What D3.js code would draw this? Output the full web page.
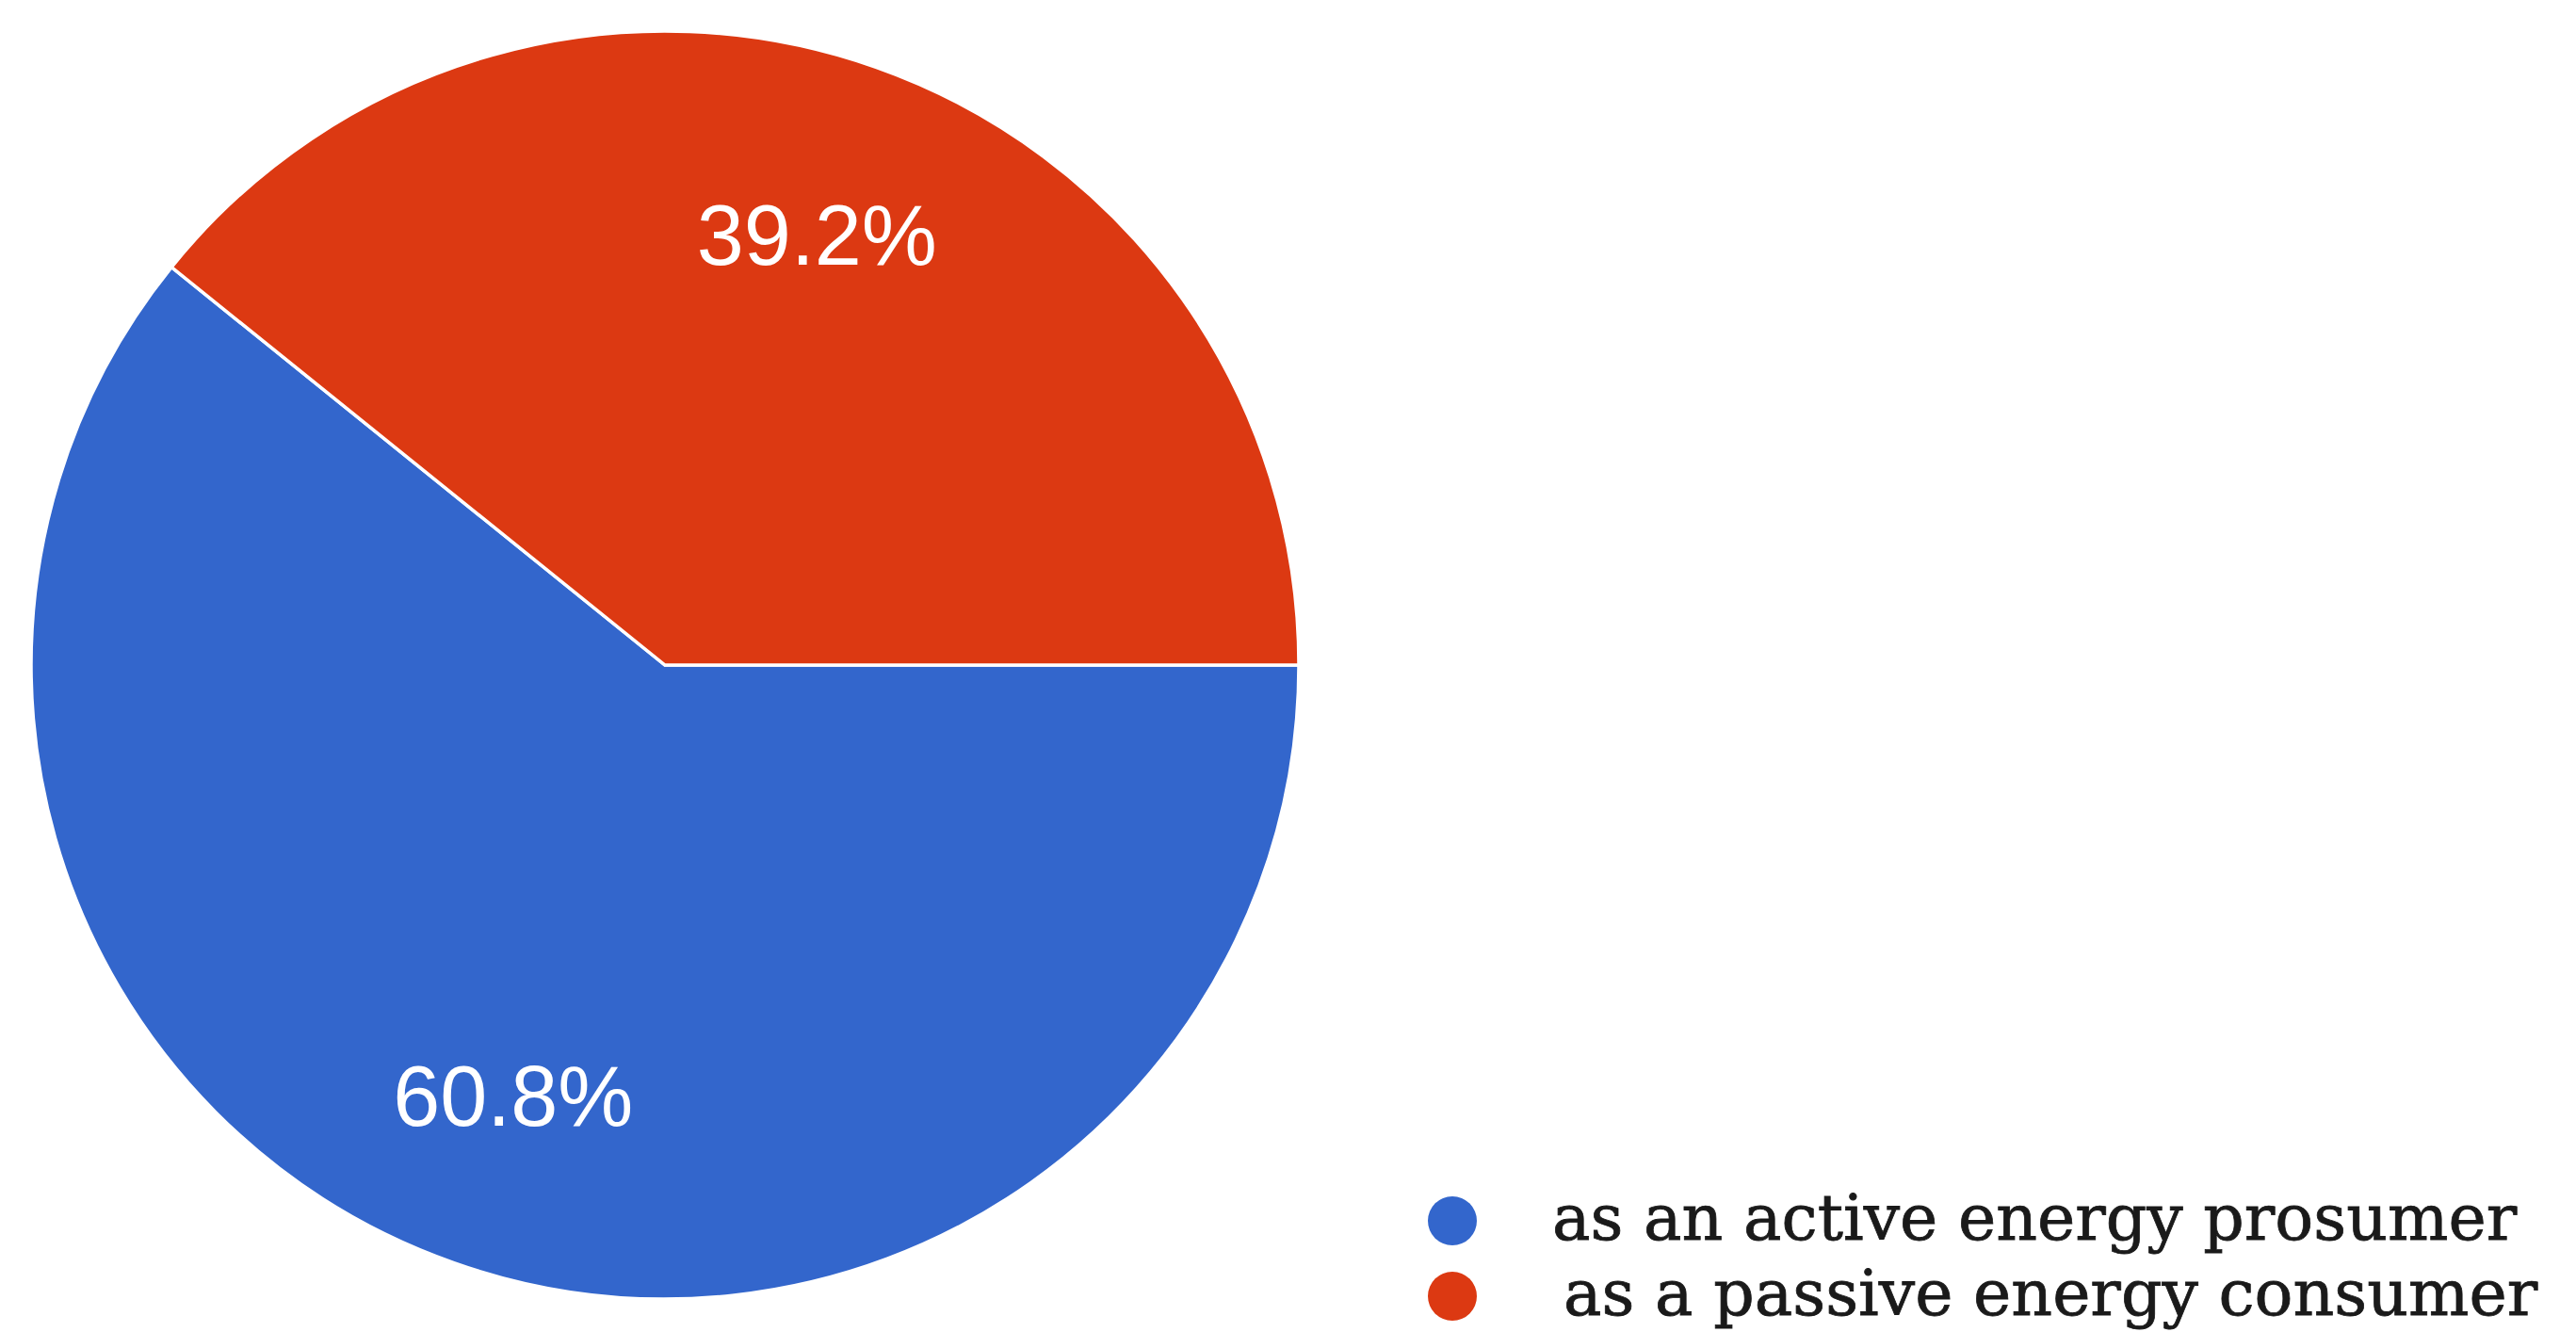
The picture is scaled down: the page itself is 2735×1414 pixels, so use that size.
<!DOCTYPE html>
<html>
<head>
<meta charset="utf-8">
<script src="https://cdn.jsdelivr.net/npm/d3@7"></script>
<style>
  body { margin: 0; background: #fff; }
  svg { display: block; }
</style>
</head>
<body>
<div id="chart"></div>
<script>
// Data
const categories = ["as an active energy prosumer", "as a passive energy consumer"];
const values = [60.8, 39.2];
const labels = ["60.8%", "39.2%"];
const colors = ["#3366cc", "#dc3912"];

const width = 2735, height = 1414;
const cx = 706, cy = 706, radius = 673;

const svg = d3.select("#chart")
  .append("svg")
    .attr("width", width)
    .attr("height", height);

const g = svg.append("g")
  .attr("transform", "translate(" + cx + "," + cy + ")");

// Pie starts at 3 o'clock, clockwise
const pie = d3.pie()
  .sort(null)
  .startAngle(Math.PI / 2)
  .endAngle(Math.PI / 2 + 2 * Math.PI)
  .value(d => d);

const arcs = pie(values);

const arc = d3.arc()
  .innerRadius(0)
  .outerRadius(radius);

const labelArc = d3.arc()
  .innerRadius(radius * 0.72)
  .outerRadius(radius * 0.72);

g.selectAll("path.slice")
  .data(arcs)
  .enter()
  .append("path")
    .attr("class", "slice")
    .attr("d", arc)
    .style("fill", (d, i) => colors[i])
    .style("stroke", "#fff")
    .style("stroke-width", 3.5);

g.selectAll("text.pct")
  .data(arcs)
  .enter()
  .append("text")
    .attr("class", "pct")
    .attr("x", d => labelArc.centroid(d)[0])
    .attr("y", d => labelArc.centroid(d)[1])
    .attr("dy", "0.36em")
    .style("text-anchor", "middle")
    .style("font-family", "Liberation Sans, Arial, sans-serif")
    .style("font-size", "90px")
    .style("fill", "#fff")
    .text((d, i) => labels[i]);

// Legend
const legendY = d3.scalePoint()
  .domain(categories)
  .range([1296, 1376]);

const legend = svg.append("g").attr("class", "legend");

legend.selectAll("circle")
  .data(categories)
  .enter()
  .append("circle")
    .attr("cx", 1542)
    .attr("cy", d => legendY(d))
    .attr("r", 26)
    .style("fill", (d, i) => colors[i]);

legend.selectAll("text")
  .data(categories)
  .enter()
  .append("text")
    .attr("x", (d, i) => i == 0 ? 1648 : 1660)
    .attr("y", d => legendY(d))
    .attr("dy", "0.3em")
    .style("font-family", "DejaVu Serif, serif")
    .style("font-size", "68px")
    .style("fill", "#1a1a1a")
    .style("stroke", "#1a1a1a")
    .style("stroke-width", 0.8)
    .text(d => d);
</script>
</body>
</html>
